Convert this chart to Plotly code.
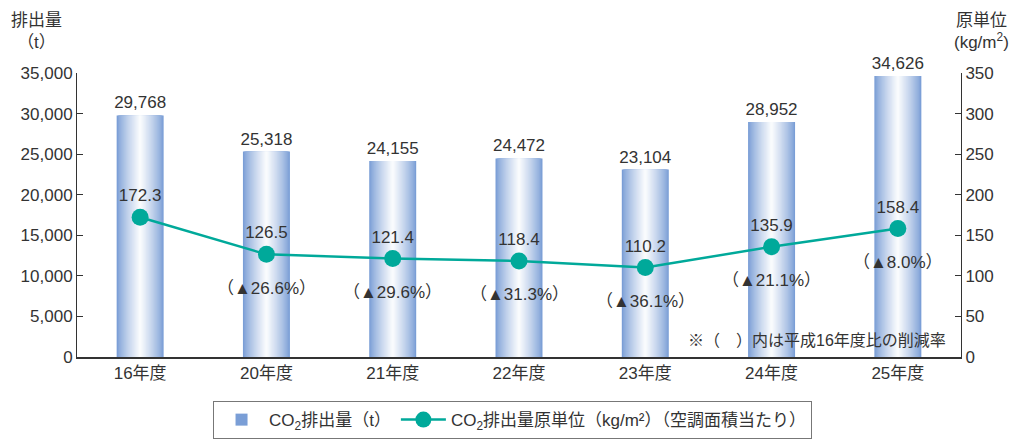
import plotly.graph_objects as go

categories = ["16年度", "20年度", "21年度", "22年度", "23年度", "24年度", "25年度"]
emissions = [29768, 25318, 24155, 24472, 23104, 28952, 34626]
intensity = [172.3, 126.5, 121.4, 118.4, 110.2, 135.9, 158.4]
reduction = [None, 26.6, 29.6, 31.3, 36.1, 21.1, 8.0]

FONT = "Liberation Sans, Noto Sans CJK JP, sans-serif"
TXT = "#333333"
TEAL = "#00a99a"
EDGE = (122, 158, 214)

fig = go.Figure()

n_layers = 20
full_w = 0.372
for i in range(n_layers):
    frac = i / n_layers
    w = full_w * (1 - frac)
    t = frac ** 0.8
    r = int(EDGE[0] + (255 - EDGE[0]) * t)
    g = int(EDGE[1] + (255 - EDGE[1]) * t)
    b = int(EDGE[2] + (255 - EDGE[2]) * t)
    first = i == 0
    fig.add_trace(go.Bar(
        x=categories, y=emissions, width=[w] * len(categories),
        marker=dict(color=f"rgb({r},{g},{b})", line=dict(width=0)),
        name="CO<sub>2</sub>排出量（t）",
        showlegend=first,
        text=[f"{v:,}" for v in emissions] if first else None,
        textposition="outside" if first else "none",
        constraintext="none",
        textfont=dict(size=17, color=TXT, family=FONT),
        cliponaxis=False,
        hoverinfo="skip" if not first else None,
    ))

fig.add_trace(go.Scatter(
    x=categories, y=intensity, yaxis="y2", mode="lines+markers+text",
    name="CO<sub>2</sub>排出量原単位（kg/m²）（空調面積当たり）",
    line=dict(color=TEAL, width=2.5),
    marker=dict(color=TEAL, size=17),
    text=[f"{v:.1f}" for v in intensity],
    textposition="top center",
    textfont=dict(size=17, color=TXT, family=FONT),
    cliponaxis=False,
))

for c, v, r in zip(categories, intensity, reduction):
    if r is None:
        continue
    fig.add_annotation(
        x=c, y=v, yref="y2", xref="x", text=f"（▲{r:.1f}%）",
        showarrow=False, yshift=-34,
        font=dict(size=17, color=TXT, family=FONT),
    )

fig.add_annotation(
    xref="paper", yref="paper", x=-0.046, y=1.225, xanchor="center", yanchor="top",
    text="排出量<br>（t）", showarrow=False, align="center",
    font=dict(size=17, color=TXT, family=FONT),
)
fig.add_annotation(
    xref="paper", yref="paper", x=1.023, y=1.225, xanchor="center", yanchor="top",
    text="原単位<br>(kg/m<sup>2</sup>)", showarrow=False, align="center",
    font=dict(size=17, color=TXT, family=FONT),
)
fig.add_annotation(
    xref="paper", yref="paper", x=0.985, y=0.02, xanchor="right", yanchor="bottom",
    text="※（　）内は平成16年度比の削減率", showarrow=False,
    font=dict(size=16, color=TXT, family=FONT),
)

fig.update_layout(
    width=1015, height=431,
    margin=dict(l=69, r=62, t=65, b=82, autoexpand=False),
    paper_bgcolor="white", plot_bgcolor="white",
    barmode="overlay",
    font=dict(family=FONT, color=TXT, size=17),
    showlegend=True,
    legend=dict(
        orientation="h", xref="container", yref="container",
        x=0.202, y=0.088, xanchor="left", yanchor="top",
        bordercolor="#777777", borderwidth=1,
        font=dict(size=17, color=TXT, family=FONT),
        itemwidth=45,
    ),
    xaxis=dict(
        range=[-0.5, 6.5], showline=True, linecolor="#333333", linewidth=1.5,
        ticks="", showgrid=False, tickfont=dict(size=17), automargin=False,
    ),
    yaxis=dict(
        range=[0, 35000], dtick=5000, tickformat=",", showline=True,
        linecolor="#333333", linewidth=1, ticks="inside", ticklen=6,
        tickcolor="#333333", showgrid=False, zeroline=False,
        tickfont=dict(size=17), automargin=False,
    ),
    yaxis2=dict(
        range=[0, 350], dtick=50, overlaying="y", side="right", showline=True,
        linecolor="#333333", linewidth=1, ticks="inside", ticklen=6,
        tickcolor="#333333", showgrid=False, zeroline=False,
        tickfont=dict(size=17), automargin=False,
    ),
)

fig.write_html("out.html")
